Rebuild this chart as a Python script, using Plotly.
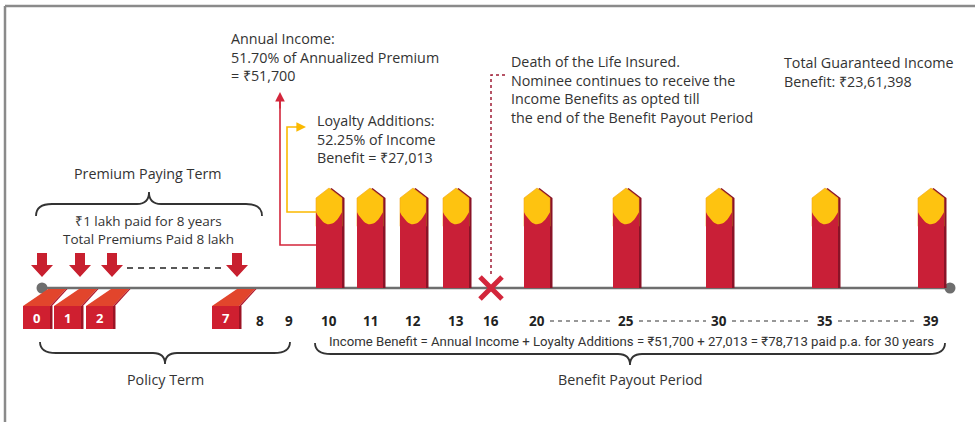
import plotly.graph_objects as go

# ---------------- data ----------------
premium_years = [0, 1, 2, 7]
other_term_years = [8, 9]
payout_years = [10, 11, 12, 13, 20, 25, 30, 35, 39]
death_year = 16
annual_income = 51700
loyalty_additions = 27013
income_benefit = annual_income + loyalty_additions

# ---------------- layout (timeline is not to scale) ----------------
W, H = 975, 422
BASE = 288           # pixel row of the timeline
YEAR_X = {0: 37, 1: 68, 2: 100, 7: 226, 8: 260, 9: 289, 10: 329, 11: 370, 12: 413,
          13: 456, 16: 491, 20: 537, 25: 626, 30: 719, 35: 825, 39: 931}
ARROW_X = {0: 42, 1: 80, 2: 112, 7: 237}
PX_PER_UNIT = 100.0 / income_benefit   # bar of full benefit = 100 px tall
s = 1.0 / PX_PER_UNIT                  # value per pixel

RED = "#c91f37"
DARK = "#8a1327"
YEL = "#fec310"
TXT = "#333333"
FONT = "Open Sans"

fig = go.Figure()

def poly(xs, ys, color, yaxis="y", line_color=None, lw=0):
    fig.add_trace(go.Scatter(x=xs + [xs[0]], y=ys + [ys[0]], mode="lines", fill="toself",
                             fillcolor=color, line=dict(color=line_color or color, width=lw),
                             yaxis=yaxis, hoverinfo="skip", showlegend=False))

# timeline
fig.add_trace(go.Scatter(x=[42, 950], y=[BASE, BASE], mode="lines+markers",
                         line=dict(color="#6e6e6e", width=2.5),
                         marker=dict(size=11, color="#6e6e6e"), hoverinfo="skip", showlegend=False))

# income bars (value axis y2)
hw = 13
tip = 10 * s
for yr in payout_years:
    c = YEAR_X[yr]
    red_top = annual_income
    total = annual_income + loyalty_additions
    sx = [c - hw + 2.5, c + hw + 2.5, c + hw + 2.5, c + 2.5, c - hw + 2.5]
    sy = [0, 0, total - tip, total, total - tip]
    poly(sx, sy, DARK, "y2")
    poly([c - hw, c + hw, c + hw, c, c - hw], [red_top - 4 * s, red_top - 4 * s, total - tip, total, total - tip],
         YEL, "y2", line_color="#f2a51a", lw=0.6)
    n = 16
    ax = [c - hw + 2 * hw * i / n for i in range(n + 1)]
    ay = [red_top + (((2 * i / n) - 1) ** 2 * 12 - 2) * s for i in range(n + 1)]
    poly([c - hw] + ax + [c + hw], [0] + ay + [0], RED, "y2")

# premium flags
for yr in premium_years:
    L = YEAR_X[yr] - 14
    poly([L, L + 25, L + 43, L + 27], [306, 289, 289, 306], "#e2452c")
    poly([L + 27, L + 43, L + 44.5, L + 29], [306, 289, 289, 306], "#b01628")
    poly([L, L + 27, L + 27, L], [306, 306, 329, 329], "#cf1f30")
    poly([L + 27, L + 29.5, L + 29.5, L + 27], [306, 306, 329, 329], "#9c1324")
    fig.add_annotation(x=L + 13.5, y=318, text=f"<b>{yr}</b>", showarrow=False,
                       font=dict(family=FONT, size=13, color="white"))

# premium arrows
for yr in premium_years:
    c = ARROW_X[yr]
    poly([c - 5, c + 5, c + 5, c + 11, c, c - 11, c - 5], [253, 253, 265, 265, 277, 265, 265], "#c8202f")

# year labels
for yr in other_term_years + payout_years + [death_year]:
    fig.add_annotation(x=YEAR_X[yr], y=321, text=f"<b>{yr}</b>", showarrow=False,
                       font=dict(family=FONT, size=13.5, color="#222222"))

# death marker
fig.add_trace(go.Scatter(x=[YEAR_X[death_year]], y=[BASE], mode="markers",
                         marker=dict(symbol="x-thin", size=22, line=dict(width=5, color="#d3263b")),
                         hoverinfo="skip", showlegend=False))

shapes = []
shapes.append(dict(type="line", x0=5, x1=975, y0=6, y1=6, line=dict(color="#8a8a8a", width=2.5)))
shapes.append(dict(type="line", x0=5, x1=5, y0=6, y1=422, line=dict(color="#8a8a8a", width=2.5)))
shapes.append(dict(type="line", x0=127, x1=223, y0=268, y1=268, line=dict(color="#222", width=1.3, dash="6px,5px")))
for a, b in [(20, 25), (25, 30), (30, 35), (35, 39)]:
    shapes.append(dict(type="line", x0=YEAR_X[a] + 13, x1=YEAR_X[b] - 13, y0=321, y1=321,
                       line=dict(color="#333", width=1.2, dash="4px,4px")))
shapes.append(dict(type="path", path=f"M {YEAR_X[death_year]},274 V 75 H 506",
                   line=dict(color="#9e1c34", width=1.5, dash="dot")))
shapes.append(dict(type="path", path="M 316,245 H 280 V 100", line=dict(color="#d3263b", width=1.6)))
shapes.append(dict(type="path", path="M 316,212 H 287 V 127 H 300", line=dict(color="#fbb900", width=1.6)))

def brace_up(x0, x1, y_end, y_mid, y_tip):
    m = (x0 + x1) / 2
    return (f"M {x0},{y_end} Q {x0},{y_mid} {x0+16},{y_mid} L {m-12},{y_mid} "
            f"Q {m},{y_mid} {m},{y_tip} Q {m},{y_mid} {m+12},{y_mid} L {x1-16},{y_mid} Q {x1},{y_mid} {x1},{y_end}")
shapes.append(dict(type="path", path=brace_up(36, 262, 216, 204, 192), line=dict(color="#333", width=1.8)))
shapes.append(dict(type="path", path=brace_up(40, 290, 342, 353, 364), line=dict(color="#333", width=1.8)))
shapes.append(dict(type="path", path=brace_up(315, 945, 343, 354, 365), line=dict(color="#333", width=1.8)))
fig.update_layout(shapes=shapes)

fig.add_annotation(x=280, y=92, ax=280, ay=110, axref="x", ayref="y", xref="x", yref="y", text="",
                   showarrow=True, arrowhead=2, arrowsize=1.2, arrowwidth=1.6, arrowcolor="#d3263b")
fig.add_annotation(x=306, y=127, ax=295, ay=127, axref="x", ayref="y", xref="x", yref="y", text="",
                   showarrow=True, arrowhead=2, arrowsize=1.2, arrowwidth=1.6, arrowcolor="#fbb900")

def txt(x, y_first, lines, size=14.3, xanchor="left", color=TXT):
    # y_first: centre of first line; plotly line height = 1.3 * size
    n = len(lines)
    yc = y_first + (n - 1) * 1.3 * size / 2
    fig.add_annotation(x=x, y=yc, text="<br>".join(lines), showarrow=False, xanchor=xanchor, yanchor="middle",
                       align=xanchor, font=dict(family=FONT, size=size, color=color))

txt(229, 38, ["Annual Income:", "51.70% of Annualized Premium", "= ₹51,700"])
txt(315, 120, ["Loyalty Additions:", "52.25% of Income", "Benefit = ₹27,013"])
txt(509, 62, ["Death of the Life Insured.", "Nominee continues to receive the",
              "Income Benefits as opted till", "the end of the Benefit Payout Period"])
txt(782, 63, ["Total Guaranteed Income", "Benefit: ₹23,61,398"])
txt(148, 173, ["Premium Paying Term"], xanchor="center")
txt(148, 221, ["₹1 lakh paid for 8 years", "Total Premiums Paid 8 lakh"], size=13.5, xanchor="center")
txt(165, 379, ["Policy Term"], xanchor="center")
txt(630, 379, ["Benefit Payout Period"], xanchor="center")
fig.add_annotation(x=631, y=341, text="Income Benefit = Annual Income + Loyalty Additions = ₹51,700 + 27,013 = ₹78,713 paid p.a. for 30 years",
                   showarrow=False, font=dict(family="Roboto", size=13.2, color=TXT))

fig.update_layout(
    width=W, height=H, margin=dict(l=0, r=0, t=0, b=0),
    paper_bgcolor="white", plot_bgcolor="white",
    xaxis=dict(range=[0, W], visible=False, fixedrange=True),
    yaxis=dict(range=[H, 0], visible=False, fixedrange=True),
    yaxis2=dict(range=[(BASE - H) * s, BASE * s], overlaying="y", visible=False, fixedrange=True),
    showlegend=False,
)

fig.write_html("out.html", config={"displayModeBar": False},
               post_script="document.body.style.margin='0';document.body.style.overflow='hidden';")
